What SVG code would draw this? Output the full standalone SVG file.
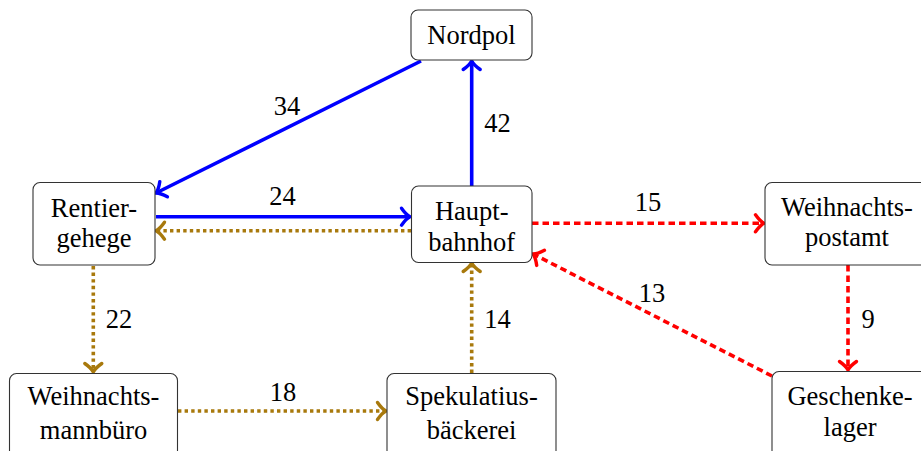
<svg xmlns="http://www.w3.org/2000/svg" width="921" height="451" viewBox="0 0 921 451" font-family="Liberation Serif, DejaVu Serif, serif">
<style>
.box{fill:#fff;stroke:#333;stroke-width:1.1}
.t{font-size:26.5px;fill:#000;text-anchor:middle}
.blue{stroke:#0000ff;stroke-width:3.6;fill:none}
.brown{stroke:#a8790c;stroke-width:3.6;fill:none;stroke-dasharray:3.4 3.2}
.red{stroke:#ff0000;stroke-width:3.6;fill:none;stroke-dasharray:6.5 4}
</style>
<defs>
<marker id="mb" markerUnits="userSpaceOnUse" markerWidth="24" markerHeight="24" viewBox="-12 -12 24 24" refX="0" refY="0" orient="auto" overflow="visible"><path d="M-8.5,-8.5 C-5,-3.5 -2,-1 0,0 C-2,1 -5,3.5 -8.5,8.5" fill="none" stroke="#0000ff" stroke-width="3.4" stroke-linecap="round"/></marker>
<marker id="mw" markerUnits="userSpaceOnUse" markerWidth="24" markerHeight="24" viewBox="-12 -12 24 24" refX="0" refY="0" orient="auto" overflow="visible"><path d="M-8.5,-8.5 C-5,-3.5 -2,-1 0,0 C-2,1 -5,3.5 -8.5,8.5" fill="none" stroke="#a8790c" stroke-width="3.4" stroke-linecap="round"/></marker>
<marker id="mr" markerUnits="userSpaceOnUse" markerWidth="24" markerHeight="24" viewBox="-12 -12 24 24" refX="0" refY="0" orient="auto" overflow="visible"><path d="M-8.5,-8.5 C-5,-3.5 -2,-1 0,0 C-2,1 -5,3.5 -8.5,8.5" fill="none" stroke="#ff0000" stroke-width="3.4" stroke-linecap="round"/></marker>
</defs>
<g id="connectors">
<line class="blue" x1="421" y1="61" x2="156" y2="193" marker-end="url(#mb)"/>
<line class="blue" x1="156" y1="216.7" x2="410" y2="216.7" marker-end="url(#mb)"/>
<line class="blue" x1="471.7" y1="186" x2="471.7" y2="61" marker-end="url(#mb)"/>
<line class="brown" x1="411" y1="230.7" x2="156" y2="230.7" marker-end="url(#mw)"/>
<line class="brown" x1="93.3" y1="266" x2="93.3" y2="372" marker-end="url(#mw)"/>
<line class="brown" x1="178" y1="411" x2="386" y2="411" marker-end="url(#mw)"/>
<line class="brown" x1="471.7" y1="373" x2="471.7" y2="263" marker-end="url(#mw)"/>
<line class="red" x1="532" y1="223.3" x2="764" y2="223.3" marker-end="url(#mr)"/>
<line class="red" x1="848" y1="265" x2="848" y2="370" marker-end="url(#mr)"/>
<line class="red" x1="772" y1="376" x2="533" y2="254" marker-end="url(#mr)"/>
<text class="t" x="287" y="115">34</text>
<text class="t" x="282.5" y="205">24</text>
<text class="t" x="497.5" y="132">42</text>
<text class="t" x="648" y="211">15</text>
<text class="t" x="119" y="328">22</text>
<text class="t" x="497.5" y="328">14</text>
<text class="t" x="283" y="401">18</text>
<text class="t" x="868" y="328">9</text>
<text class="t" x="652" y="302">13</text>
</g>
<g id="nordpol"><rect class="box" x="411" y="10" width="121" height="50" rx="7"/><text class="t" x="471.5" y="44">Nordpol</text></g>
<g id="rentiergehege"><rect class="box" x="33" y="182.5" width="122" height="82.5" rx="7"/><text class="t" x="94" y="217">Rentier-</text><text class="t" x="94" y="247">gehege</text></g>
<g id="hauptbahnhof"><rect class="box" x="411.5" y="186" width="120.5" height="76.5" rx="7"/><text class="t" x="471.7" y="220">Haupt-</text><text class="t" x="471.7" y="251">bahnhof</text></g>
<g id="weihnachtspostamt"><rect class="box" x="765" y="182.5" width="164" height="82.5" rx="7"/><text class="t" x="847" y="216">Weihnachts-</text><text class="t" x="847" y="246">postamt</text></g>
<g id="weihnachtsmannbuero"><rect class="box" x="9.5" y="373.5" width="168" height="84" rx="7"/><text class="t" x="93.5" y="405">Weihnachts-</text><text class="t" x="93.5" y="439">mannbüro</text></g>
<g id="spekulatiusbaeckerei"><rect class="box" x="387" y="373.5" width="169" height="84" rx="7"/><text class="t" x="471.5" y="405">Spekulatius-</text><text class="t" x="471.5" y="439">bäckerei</text></g>
<g id="geschenkelager"><rect class="box" x="772" y="371.5" width="156" height="86" rx="7"/><text class="t" x="850" y="405">Geschenke-</text><text class="t" x="850" y="436">lager</text></g>
</svg>
